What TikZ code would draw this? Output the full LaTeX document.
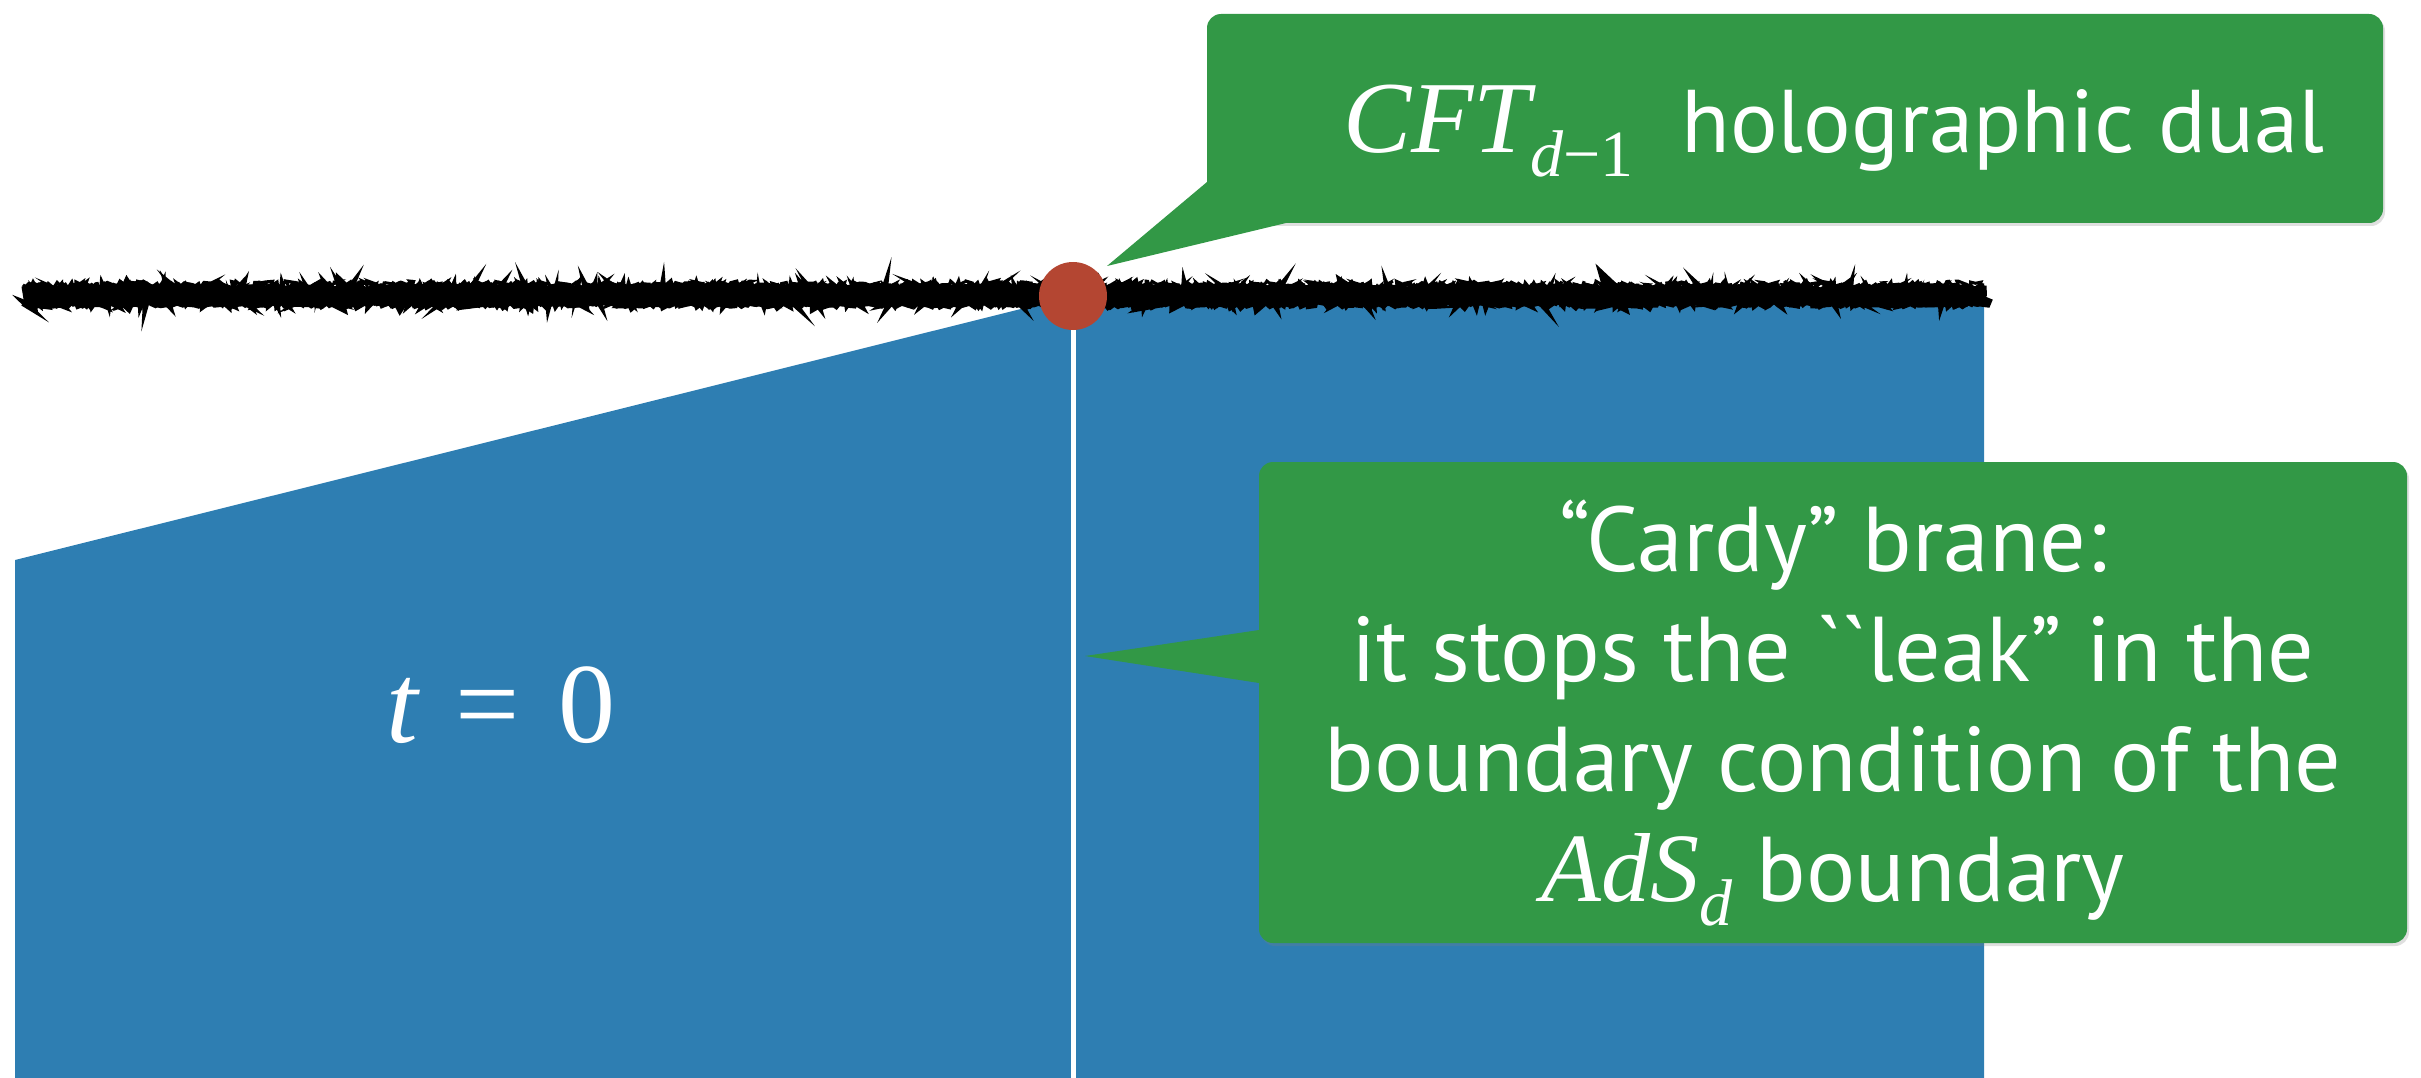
\documentclass[tikz,border=0pt]{standalone}
\usepackage{fontspec}
\setmainfont{PT Sans}
\newfontfamily\rawsans{PT Sans}
\newfontfamily\tms{Liberation Serif}
\usetikzlibrary{decorations.pathmorphing,shadows}
\definecolor{slabblue}{RGB}{46,126,178}
\definecolor{calloutgreen}{RGB}{50,152,70}
\definecolor{dotred}{RGB}{180,70,50}
\newcommand\mysub[1]{\raisebox{-24pt}{\fontsize{66}{66}\selectfont #1}}
\tikzset{
  brush/.style={line width=#1, decorate,
    decoration={random steps, segment length=3pt, amplitude=2pt}},
  calloutbox/.style={fill=calloutgreen, rounded corners=14pt, inner sep=0pt,
    drop shadow={opacity=0.25, shadow xshift=2pt, shadow yshift=-3pt}},
  calloutext/.style={text=white, inner sep=0pt},
  reddot/.style={circle, fill=dotred, minimum size=68pt, inner sep=0pt},
}
\begin{document}
\begin{tikzpicture}[x=1pt,y=-1pt]
\useasboundingbox (0,0) rectangle (2421,1078);
% bulk region
\fill[slabblue] (15,560) -- (1073,296) -- (1984,296) -- (1984,1078) -- (15,1078) -- cycle;
% brane
\coordinate (branept) at (1073,296);
\coordinate (floor) at (1073,1078);
\draw[white, line width=5pt] (branept) -- (floor);
% rough boundary line
\pgfmathsetseed{7}
\draw[brush=19pt] (23,296) -- (1984,296);
\draw[brush=6pt, decoration={segment length=2pt, amplitude=3pt}] (23,288) -- (1984,288);
\draw[brush=6pt, decoration={segment length=2pt, amplitude=3pt}] (23,303) -- (1984,303);
\draw[brush=3pt, decoration={segment length=2pt, amplitude=4pt}] (23,285) -- (1984,285);
% dot
\node[reddot] (brane) at (branept) {};
% t = 0
\node[anchor=base west, text=white, inner sep=0pt, font=\fontsize{114}{114}\selectfont\tms] (t0) at (386,742) {{\itshape t}\hspace{38pt}=\hspace{38pt}0};
% callout 1
\coordinate (tip1) at (1107,266);
\node[calloutbox, minimum width=1176pt, minimum height=209pt] (box1) at (1795,118.5) {};
\fill[calloutgreen] (1207,182) -- (tip1) -- (1286,223) -- (1286,182) -- cycle;
\node[calloutext, anchor=base west] (lab1) at (1343,153)
  {{\fontsize{102}{102}\selectfont\tms\itshape CFT}\mysub{\tms\itshape d\upshape −1}\hspace{48pt}{\fontsize{89}{89}\selectfont holographic dual}};
% callout 2
\coordinate (tip2) at (1085,656);
\node[calloutbox, minimum width=1148pt, minimum height=481pt] (box2) at (1833,702.5) {};
\fill[calloutgreen] (1259,630) -- (tip2) -- (1259,683) -- (1275,683) -- (1275,630) -- cycle;
\node[calloutext, align=center, font=\fontsize{92}{110}\selectfont] (lab2) at (1833,713)
  {“Cardy” brane:\\
   it stops the {\rawsans``}leak” in the\\
   boundary condition of the\\
   {\tms\itshape\fontsize{98}{110}\selectfont AdS}\mysub{\tms\itshape d} boundary};
\end{tikzpicture}
\end{document}
